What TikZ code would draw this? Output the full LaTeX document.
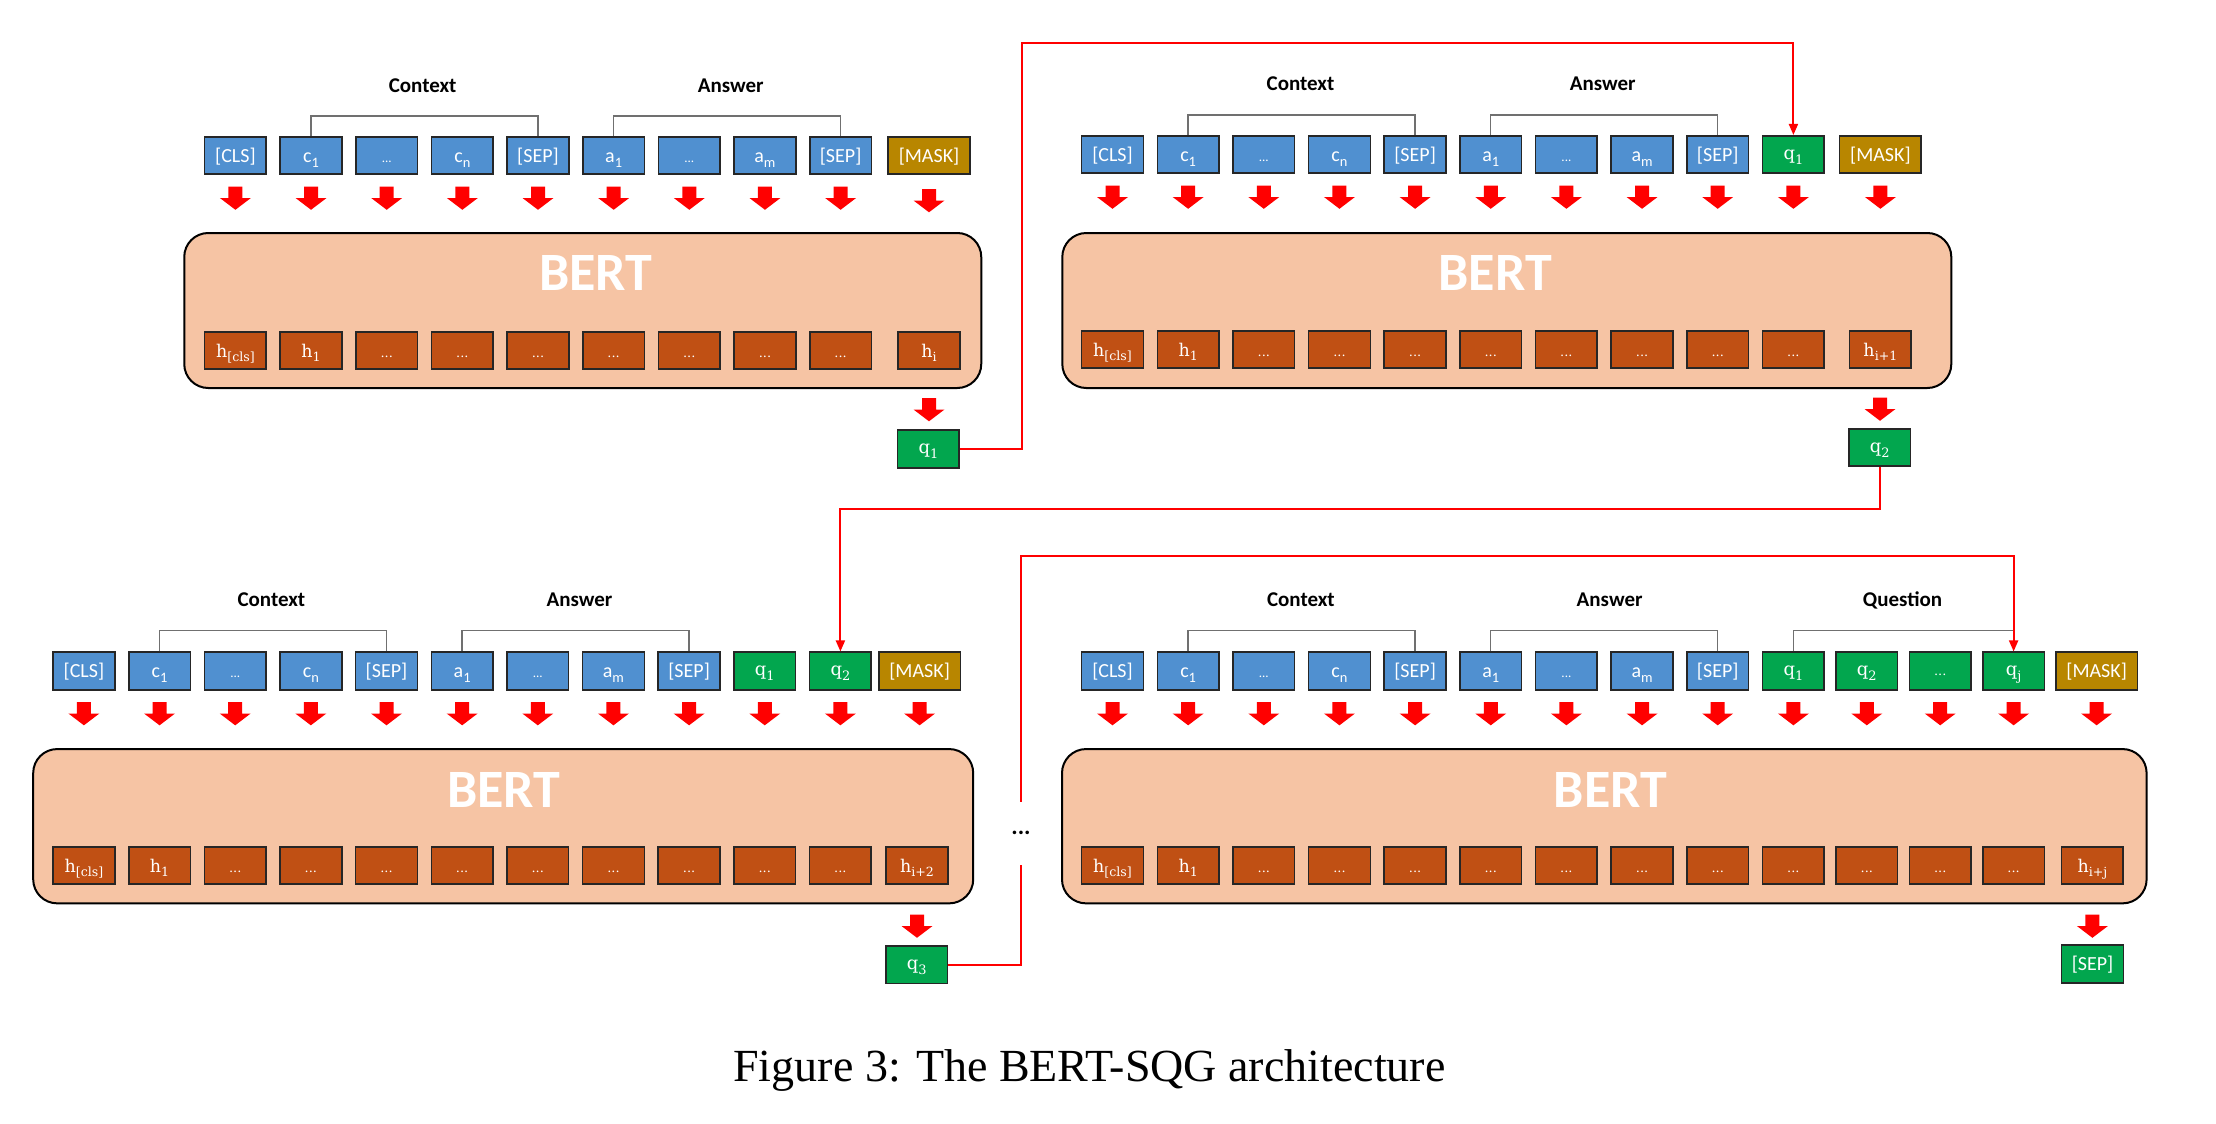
\documentclass[tikz,border=0pt]{standalone}
\usepackage{fontspec}
\usepackage{graphicx}
\newfontfamily\carlito{Carlito}
\newfontfamily\capfont{Liberation Serif}
\newfontfamily\tokserif{DejaVu Serif}
\usetikzlibrary{arrows.meta}
\definecolor{tokblue}{HTML}{5090D0}
\definecolor{tokgreen}{HTML}{02A64E}
\definecolor{maskgold}{HTML}{B88600}
\definecolor{hidorange}{HTML}{C05014}
\definecolor{bertfill}{HTML}{F6C4A4}
\definecolor{brkgray}{HTML}{707070}
\newcommand\tsub[1]{\raisebox{-0.27em}{\scalebox{0.72}{#1}}}
\newcommand\tdots{{\fontsize{13}{13}\selectfont...}}
\tikzset{
 tokbox/.style={draw=black!85, line width=1.6pt, minimum width=61.7pt, minimum height=37.5pt, inner sep=0pt, text=white},
 ctok/.style={tokbox, fill=tokblue, font=\carlito\fontsize{20}{20}\selectfont, text height=13pt, text depth=0pt},
 qtok/.style={tokbox, fill=tokgreen, font=\tokserif\fontsize{18}{18}\selectfont, text height=9.3pt, text depth=0pt},
 sepout/.style={tokbox, fill=tokgreen, font=\carlito\fontsize{20}{20}\selectfont, text height=13pt, text depth=0pt},
 masktok/.style={tokbox, fill=maskgold, minimum width=81.6pt, font=\carlito\fontsize{20}{20}\selectfont, text height=13pt, text depth=0pt},
 hbox/.style={tokbox, fill=hidorange, font=\tokserif\fontsize{17.5}{17.5}\selectfont, text height=13.3pt, text depth=0pt},
 bertbox/.style={draw=black, line width=2pt, fill=bertfill, rounded corners=24pt, inner sep=0pt},
 bertlbl/.style={text=white, font=\carlito\bfseries\fontsize{54}{54}\selectfont, inner sep=0pt},
 seglbl/.style={font=\carlito\bfseries\fontsize{21}{21}\selectfont, inner sep=0pt},
 bracket/.style={draw=brkgray, line width=1.4pt},
 feed/.style={draw=red, line width=2pt, -{Triangle[length=11pt,width=9pt]}},
 pics/fatarr/.style={code={\fill[red] (-7,0) -- (7,0) -- (7,11.5) -- (15.5,11.5) -- (0,23.3) -- (-15.5,11.5) -- (-7,11.5) -- cycle;}},
}
\newcommand\ctxrow[3]{%
 \foreach \lab [count=\i from 0] in {{[CLS]},{c\tsub{1}},\tdots,{c\tsub{n}},{[SEP]},{a\tsub{1}},\tdots,{a\tsub{m}},{[SEP]}}{
   \node[ctok] (#1\i) at ({#2+\i*75.65},#3) {\lab};
   \pic at ({#2+\i*75.65},{#3+31}) {fatarr};
 }}
\newcommand\hrow[4]{%
 \node[hbox] (#1h0) at (#2,#3) {h\tsub{[cls]}};
 \node[hbox] (#1h1) at ({#2+75.65},#3) {h\tsub{1}};
 \foreach \i in {2,...,#4}{\node[hbox] (#1h\i) at ({#2+\i*75.65},#3) {\tdots};}
}
\begin{document}
\begin{tikzpicture}[x=1pt,y=-1pt]
\useasboundingbox (0,0) rectangle (2216,1124);

% ---------- BERT boxes ----------
\node[bertbox, minimum width=797pt, minimum height=155pt] (Abert) at (582.75,310.5) {};
\node[bertbox, minimum width=889pt, minimum height=155pt] (Bbert) at (1506.8,310.5) {};
\node[bertbox, minimum width=940pt, minimum height=154.3pt] (Cbert) at (503.2,826.2) {};
\node[bertbox, minimum width=1084.6pt, minimum height=154.3pt] (Dbert) at (1604.3,826.2) {};
\node[bertlbl] (Albl) at (595.8,273) {BERT};
\node[bertlbl] (Blbl) at (1495.2,273) {BERT};
\node[bertlbl] (Clbl) at (503.8,790) {BERT};
\node[bertlbl] (Dlbl) at (1610.3,790) {BERT};

% ---------- Panel A ----------
\ctxrow{A}{235.4}{155.5}
\node[masktok] (Amask) at (929,155.5) {[MASK]};
\pic at (929,189) {fatarr};
\hrow{A}{235.4}{350.5}{8}
\node[hbox] (Ahi) at (929,350.5) {h\tsub{i}};
\pic at (929,398) {fatarr};
\node[qtok] (Aout) at (928.4,449) {q\tsub{1}};
\draw[bracket] (A1.north) -- ++(0,-20) -| (A4.north);
\draw[bracket] (A5.north) -- ++(0,-20) -| (A8.north);
\node[seglbl] (Actx) at (422.6,86) {Context};
\node[seglbl] (Aans) at (730.7,86) {Answer};

% ---------- Panel B ----------
\ctxrow{B}{1112.5}{154.5}
\node[qtok] (B9) at (1793.4,154.5) {q\tsub{1}};
\pic at (1793.4,185.5) {fatarr};
\node[masktok] (Bmask) at (1880.4,154.5) {[MASK]};
\pic at (1880.4,185.5) {fatarr};
\hrow{B}{1112.5}{349.5}{9}
\node[hbox] (Bhi) at (1880.4,349.5) {h\tsub{i+1}};
\pic at (1880,397.5) {fatarr};
\node[qtok] (Bout) at (1879.7,447.5) {q\tsub{2}};
\draw[bracket] (B1.north) -- ++(0,-20) -| (B4.north);
\draw[bracket] (B5.north) -- ++(0,-20) -| (B8.north);
\node[seglbl] (Bctx) at (1300.5,84) {Context};
\node[seglbl] (Bans) at (1602.7,84) {Answer};

% ---------- Panel C ----------
\ctxrow{C}{83.9}{671}
\node[qtok] (C9) at ({83.9+9*75.65},671) {q\tsub{1}};
\pic at ({83.9+9*75.65},702) {fatarr};
\node[qtok] (C10) at ({83.9+10*75.65},671) {q\tsub{2}};
\pic at ({83.9+10*75.65},702) {fatarr};
\node[masktok] (Cmask) at (919.6,671) {[MASK]};
\pic at (919.6,702) {fatarr};
\hrow{C}{83.9}{865.5}{10}
\node[hbox] (Chi) at (917,865.5) {h\tsub{i+2}};
\pic at (917,914.5) {fatarr};
\node[qtok] (Cout) at (916.8,964.6) {q\tsub{3}};
\draw[bracket] (C1.north) -- ++(0,-21) -| (C4.north);
\draw[bracket] (C5.north) -- ++(0,-21) -| (C8.north);
\node[seglbl] (Cctx) at (271.4,600) {Context};
\node[seglbl] (Cans) at (579.5,600) {Answer};

% ---------- Panel D ----------
\ctxrow{D}{1112.5}{671}
\foreach \lab [count=\k from 0] in {{q\tsub{1}},{q\tsub{2}},\tdots,{q\tsub{j}}}{
  \pgfmathtruncatemacro\idx{9+\k}
  \node[qtok] (D\idx) at ({1793.4+\k*73.4},671) {\lab};
  \pic at ({1793.4+\k*73.4},702) {fatarr};
}
\node[masktok] (Dmask) at (2096.6,671) {[MASK]};
\pic at (2096.6,702) {fatarr};
\hrow{D}{1112.5}{865.5}{9}
\foreach \k in {1,2,3}{
  \pgfmathtruncatemacro\idx{9+\k}
  \node[hbox] (Dh\idx) at ({1793.4+\k*73.4},865.5) {\tdots};
}
\node[hbox] (Dhi) at (2092.4,865.5) {h\tsub{i+j}};
\pic at (2092.4,914.5) {fatarr};
\node[sepout] (Dout) at (2092.5,964) {[SEP]};
\draw[bracket] (D1.north) -- ++(0,-21) -| (D4.north);
\draw[bracket] (D5.north) -- ++(0,-21) -| (D8.north);
\draw[bracket] (D9.north) -- ++(0,-21) -| (D12.north);
\node[seglbl] (Dctx) at (1300.9,600) {Context};
\node[seglbl] (Dans) at (1609.6,600) {Answer};
\node[seglbl] (Dque) at (1902.5,600) {Question};

% ---------- feedback connectors ----------
\coordinate (jA) at (1021.7,43.3);
\draw[feed] (Aout.east) -| (jA) -| (B9.north);
\draw[feed] (Bout.south) -- ++(0,42) -| (C10.north);
\coordinate (jC) at (1021,555.5);
\draw[feed] (Cout.east) -| (jC) -| (D12.north);
\node[fill=white, inner xsep=2pt, inner ysep=0pt, minimum height=63pt, font=\carlito\bfseries\fontsize{24}{24}\selectfont] (gap) at (1021,833) {...};

% ---------- caption ----------
\node[font=\capfont\fontsize{46}{46}\selectfont, anchor=base, inner sep=0pt] (cap) at (1089.5,1081.7) {Figure 3: The BERT-SQG architecture};
\end{tikzpicture}
\end{document}
